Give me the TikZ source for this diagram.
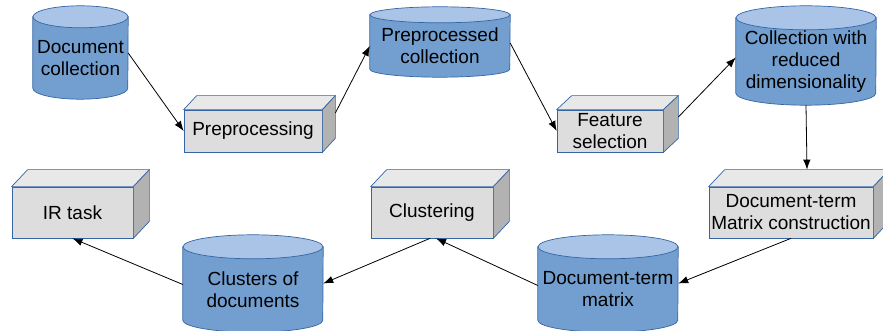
\documentclass[tikz,border=0pt]{standalone}
\usepackage{fontspec}
\setmainfont{Liberation Sans}
\usetikzlibrary{arrows.meta}
\definecolor{cylbody}{RGB}{114,159,207}
\definecolor{cyltop}{RGB}{169,196,230}
\definecolor{edgeblue}{RGB}{52,101,164}
\definecolor{boxfront}{RGB}{221,221,221}
\definecolor{boxtop}{RGB}{232,232,232}
\definecolor{boxside}{RGB}{178,178,178}
\pgfdeclarelayer{background}
\pgfsetlayers{background,main}

\begin{document}
\begin{tikzpicture}[x=1pt,y=-1pt,
    lbl/.style={inner sep=0pt,align=center,font=\fontsize{19}{22}\selectfont},
    db/.style={lbl,minimum width=#1},
    stage/.style={lbl,draw=edgeblue,fill=boxfront,line width=0.7pt},
    flow/.style={-{Latex[length=10pt,width=7.5pt]},line width=0.8pt}]
  \useasboundingbox (0,0) rectangle (883,331);
  % cylinders (node = body below the top ellipse centre)
  \node[db=95pt, minimum height=82pt]  (doc) at (80.5,58)  {Document\\collection};
  \node[db=140pt,minimum height=62pt]  (ppc) at (440,46)   {Preprocessed\\collection};
  \node[db=140pt,minimum height=87pt]  (red) at (806,61.5) {Collection with\\reduced\\dimensionality};
  \node[db=140pt,minimum height=85pt]  (dtm) at (608,289.5) {Document-term\\matrix};
  \node[db=140pt,minimum height=85pt]  (clu) at (253,289.5) {Clusters of\\documents};
  % processing steps (front faces)
  \node[stage,minimum width=138pt,minimum height=42pt] (pre)  at (253,131)   {Preprocessing};
  \node[stage,minimum width=106pt,minimum height=42pt] (feat) at (610,131)   {Feature\\selection};
  \node[stage,minimum width=164pt,minimum height=51pt] (dtmc) at (791,212.5) {Document-term\\Matrix construction};
  \node[stage,minimum width=122pt,minimum height=51pt] (clus) at (432,212.5) {Clustering};
  \node[stage,minimum width=121pt,minimum height=51pt] (ir)   at (72.5,212.5) {IR task};
  \begin{pgfonlayer}{background}
    \foreach \n/\a/\r in {doc/47.5/11, ppc/70/8, red/70/12, dtm/70/12, clu/70/12}{
      \filldraw[fill=cylbody,draw=edgeblue,line width=0.7pt] (\n.north west)
        -- ([yshift=\r pt]\n.south west)
        arc[start angle=180,end angle=360,x radius=\a pt,y radius=\r pt]
        -- (\n.north east) -- cycle;
      \filldraw[fill=cyltop,draw=edgeblue,line width=0.7pt] (\n.north)
        ellipse[x radius=\a pt,y radius=\r pt];
    }
  \end{pgfonlayer}
  \foreach \n/\d/\e in {pre/13/14, feat/15/14, dtmc/16/17, clus/16/17, ir/16/17}{
    \filldraw[fill=boxtop,draw=edgeblue,line width=0.7pt] (\n.north west) -- ++(\d,-\e)
      -- ([shift={(\d,-\e)}]\n.north east) -- (\n.north east) -- cycle;
    \filldraw[fill=boxside,draw=edgeblue,line width=0.7pt] (\n.north east) -- ++(\d,-\e)
      -- ([shift={(\d,-\e)}]\n.south east) -- (\n.south east) -- cycle;
  }
  % data flow
  \draw[flow] ([yshift=5pt]doc.east) -- (pre.west);
  \draw[flow] ([shift={(13,-18)}]pre.east) -- (ppc.west);
  \draw[flow] ([yshift=3pt]ppc.east) -- (feat.west);
  \draw[flow] ([shift={(15,-14)}]feat.east) -- ([yshift=4pt]red.west);
  \draw[flow] (red.south) -- ([shift={(16,-17)}]dtmc.north);
  \draw[flow] (dtmc.south) -- ([yshift=6pt]dtm.east);
  \draw[flow] ([yshift=4pt]dtm.west) -- ([xshift=4pt]clus.south);
  \draw[flow] ([xshift=-2pt]clus.south) -- ([yshift=6pt]clu.east);
  \draw[flow] ([yshift=5pt]clu.west) -- (ir.south);
\end{tikzpicture}
\end{document}
